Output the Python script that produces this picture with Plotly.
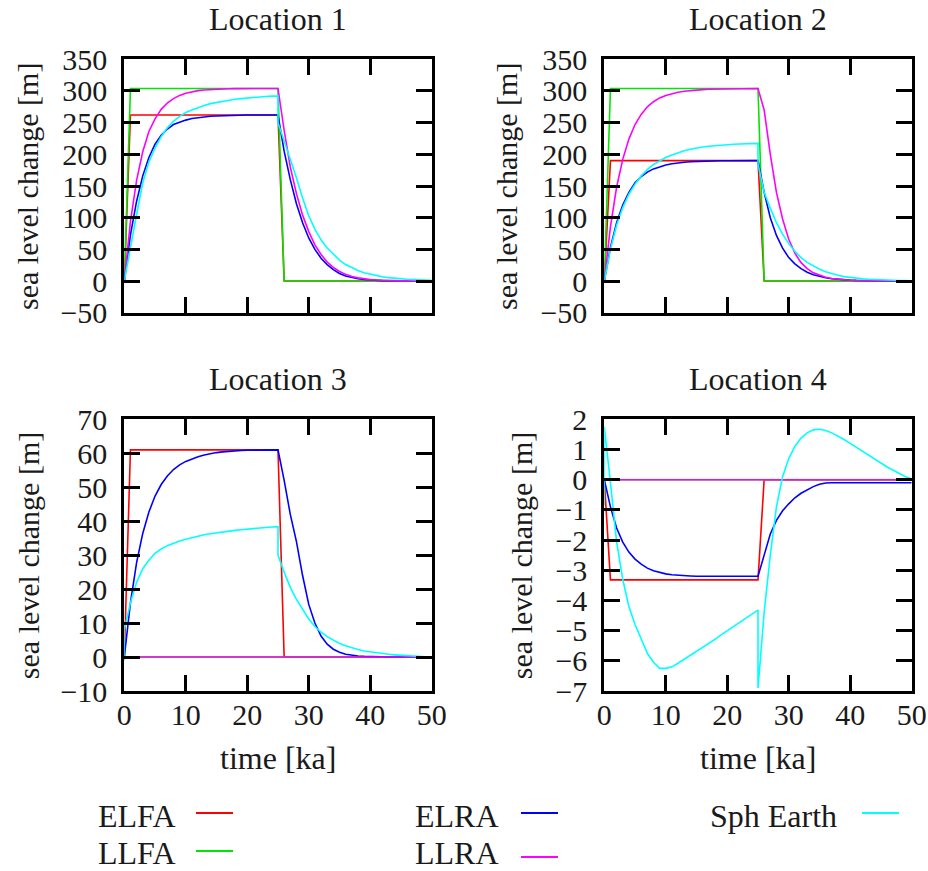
import plotly.graph_objects as go

# ---------------------------------------------------------------- data
# time axis [ka]
t_step = [0, 1, 25, 26, 50]          # fixed-ice step models sample points
t_flat = [0, 50]
t_grid = list(range(0, 51))          # 1 ka output grid
t_sph = list(range(0, 26)) + list(range(25, 51))          # repeated 25 ka (unloading)
t_sph0 = [0] + list(range(0, 26)) + list(range(25, 51))   # repeated 0 ka and 25 ka

# Location 1
elfa_1 = [0, 262, 262, 0, 0]
llfa_1 = [0, 304, 304, 0, 0]
elra_1 = [0, 73, 126, 166, 195, 216, 230, 240, 247, 251, 254, 256.5, 258, 259, 260,
          260.5, 261, 261, 261.5, 261.5, 262, 262, 262, 262, 262, 262,
          205, 160, 122, 92, 68, 50, 36, 26, 18, 12, 8, 5.5, 3.8, 2.5, 1.7, 1.1,
          0.7, 0.5, 0.3, 0.2, 0.1, 0.1, 0, 0, 0]
llra_1 = [0, 94, 159, 204, 236, 256, 271, 281, 288, 293, 296.5, 299, 300.5, 301.5,
          302.3, 302.8, 303.2, 303.5, 303.7, 303.8, 303.9, 304, 304, 304, 304, 304,
          238, 180, 138, 104, 78, 57, 42, 30, 21.5, 15, 10.5, 7, 5, 3.3, 2.2, 1.5,
          1, 0.7, 0.5, 0.3, 0.2, 0.1, 0.1, 0, 0]
sph_1 = [0, 55, 105, 155, 188, 210, 228, 242, 252, 260, 266, 270, 274, 277, 280, 282,
         284, 285.5, 287, 288, 289, 290, 290.7, 291.3, 291.8, 292,
         250, 222, 193, 163, 131, 103, 82, 65, 52, 42, 33, 26, 21, 16.5, 13, 10.5,
         8.3, 6.6, 5.3, 4.2, 3.4, 2.7, 2.2, 1.8, 1.5, 1.2]

# Location 2
elfa_2 = [0, 190, 190, 0, 0]
llfa_2 = [0, 304, 304, 0, 0]
elra_2 = [0, 53, 92, 120, 140, 155, 165, 172, 177, 180.5, 183, 185, 186.5, 187.5,
          188.2, 188.7, 189.1, 189.4, 189.6, 189.8, 189.9, 190, 190, 190, 190, 190,
          140, 100, 72, 52, 37, 27, 19.5, 14, 10, 7.2, 5.2, 3.7, 2.7, 1.9, 1.4, 1,
          0.7, 0.5, 0.4, 0.3, 0.2, 0.1, 0.1, 0.1, 0]
llra_2 = [0, 86, 148, 192, 224, 247, 263, 275, 283, 289, 293, 296, 298, 299.5, 300.7,
          301.5, 302.2, 302.7, 303, 303.3, 303.5, 303.7, 303.8, 303.9, 304, 304,
          270, 200, 140, 98, 66, 44, 29, 19.5, 13, 9, 6, 4, 2.7, 1.8, 1.2, 0.8,
          0.5, 0.4, 0.3, 0.2, 0.1, 0.1, 0, 0, 0]
sph_2 = [0, 50, 88, 116, 137, 153, 166, 176, 184, 190, 195, 199, 202.5, 205.5, 208,
         210, 211.5, 212.7, 213.7, 214.5, 215.2, 215.8, 216.3, 216.7, 217, 217.3,
         185, 140, 115, 92, 74, 59, 47, 37, 29.5, 23.5, 18.5, 14.5, 11.5, 9, 7, 5.6,
         4.4, 3.5, 2.8, 2.2, 1.7, 1.4, 1.1, 0.9, 0.7, 0.5]

# Location 3
elfa_3 = [0, 61, 61, 0, 0]
llfa_3 = [0, 0]
elra_3 = [0, 16, 27.8, 36.4, 42.7, 47.4, 50.8, 53.3, 55.2, 56.6, 57.6, 58.4, 59, 59.5,
          59.9, 60.2, 60.4, 60.6, 60.7, 60.8, 60.9, 60.9, 61, 61, 61, 61,
          52, 42, 34, 24, 15.5, 10, 6.2, 3.8, 2.3, 1.4, 0.8, 0.5, 0.3, 0.2, 0.1, 0.1,
          0, 0, 0, 0, 0, 0, 0, 0, 0]
llra_3 = [0, 0]
sph_3 = [-1, 8, 16, 22, 26, 28.5, 30.5, 31.8, 32.8, 33.6, 34.2, 34.7, 35.2, 35.6, 36,
         36.3, 36.6, 36.9, 37.1, 37.3, 37.5, 37.7, 37.9, 38, 38.1, 38.3, 38.4,
         30, 25, 20.5, 17, 14, 11.2, 9, 7.3, 6, 4.9, 4, 3.3, 2.7, 2.2, 1.8, 1.5, 1.2,
         1, 0.8, 0.65, 0.5, 0.4, 0.3, 0.2, 0.1, 0]

# Location 4
elfa_4 = [0, -3.32, -3.32, 0, 0]
llfa_4 = [0, 0]
elra_4 = [0, -0.9, -1.6, -2.07, -2.4, -2.63, -2.8, -2.93, -3.02, -3.08, -3.12, -3.15,
          -3.17, -3.18, -3.19, -3.2, -3.2, -3.2, -3.2, -3.2, -3.2, -3.2, -3.2, -3.2,
          -3.2, -3.2,
          -2.5, -1.8, -1.35, -1.03, -0.8, -0.6, -0.45, -0.33, -0.23, -0.15, -0.11,
          -0.1, -0.1, -0.1, -0.1, -0.1, -0.1, -0.1, -0.1, -0.1, -0.1, -0.1, -0.1,
          -0.1, -0.1]
llra_4 = [0, 0]
sph_4 = [-0.85, 1.75, -0.1, -2.05, -3.3, -4.2, -4.8, -5.3, -5.75, -6.05, -6.25, -6.25,
         -6.2, -6.08, -5.95, -5.83, -5.7, -5.57, -5.43, -5.29, -5.14, -5.0, -4.86,
         -4.73, -4.6, -4.46, -4.32,
         -6.9, -4.4, -2.5, -0.9, 0.1, 0.7, 1.1, 1.38, 1.55, 1.65, 1.67, 1.63, 1.55,
         1.45, 1.33, 1.2, 1.07, 0.93, 0.8, 0.67, 0.54, 0.42, 0.31, 0.2, 0.1, 0.02]

titles = ["Location 1", "Location 2", "Location 3", "Location 4"]
y_ranges = [[-50, 350], [-50, 350], [-10, 70], [-7, 2]]
y_dticks = [50, 50, 10, 1]
x_ticks = [0, 10, 20, 30, 40, 50]

model_names = ["ELFA", "LLFA", "ELRA", "LLRA", "Sph Earth"]
model_colors = ["#ff0000", "#00e600", "#0000ff", "#ff00ff", "#00ffff"]

panels = [
    [(t_step, elfa_1), (t_step, llfa_1), (t_grid, elra_1), (t_grid, llra_1), (t_sph, sph_1)],
    [(t_step, elfa_2), (t_step, llfa_2), (t_grid, elra_2), (t_grid, llra_2), (t_sph, sph_2)],
    [(t_step, elfa_3), (t_flat, llfa_3), (t_grid, elra_3), (t_flat, llra_3), (t_sph0, sph_3)],
    [(t_step, elfa_4), (t_flat, llfa_4), (t_grid, elra_4), (t_flat, llra_4), (t_sph0, sph_4)],
]

# ---------------------------------------------------------------- layout geometry (px)
W, H = 928, 871
FONT = "Liberation Serif"
TXT = "#1a1a1a"
FS_TICK = 30
FS_YTITLE = 30
FS_TEXT = 32
col_px = [(124.3, 431.7), (604.3, 911.7)]
row_px = [(59.3, 312.7), (419.3, 691.0)]


def px_x(v):
    return v / W


def px_y(v):
    return 1 - v / H


def txt_font(size=FS_TEXT):
    return dict(family=FONT, size=size, color=TXT)


fig = go.Figure()

for i in range(4):
    r, c = divmod(i, 2)
    xs = "" if i == 0 else str(i + 1)
    xref, yref = "x" + xs, "y" + xs
    for (tx, ty), name, color in zip(panels[i], model_names, model_colors):
        fig.add_trace(go.Scatter(x=tx, y=ty, mode="lines", name=name,
                                 line=dict(color=color, width=1.6),
                                 xaxis=xref, yaxis=yref))
    x0, x1 = col_px[c]
    y0, y1 = row_px[r]
    common = dict(showline=True, linecolor="black", linewidth=3, mirror="allticks",
                  ticks="inside", ticklen=16, tickwidth=3, tickcolor="black",
                  showgrid=False, zeroline=False, automargin=False,
                  tickfont=txt_font(FS_TICK))
    fig.update_layout({
        "xaxis" + xs: dict(common, domain=[px_x(x0), px_x(x1)], range=[0, 50],
                           tickvals=x_ticks, showticklabels=(r == 1),
                           anchor=yref, ticklabelstandoff=-5),
        "yaxis" + xs: dict(common, domain=[px_y(y1), px_y(y0)], range=y_ranges[i],
                           tick0=y_ranges[i][0], dtick=y_dticks[i],
                           anchor=xref, ticklabelstandoff=8),
    })
    # panel title
    fig.add_annotation(text=titles[i], x=px_x((x0 + x1) / 2), y=px_y(y0 - 40),
                       xref="paper", yref="paper", showarrow=False,
                       xanchor="center", yanchor="middle", font=txt_font())
    # y-axis title
    ytx = [28, 507, 28, 521][i]
    fig.add_annotation(text="sea level change [m]", x=px_x(ytx),
                       y=px_y((y0 + y1) / 2 + 1), textangle=-90,
                       xref="paper", yref="paper", showarrow=False,
                       xanchor="center", yanchor="middle", font=txt_font(FS_YTITLE))
    if r == 1:
        fig.add_annotation(text="time [ka]", x=px_x((x0 + x1) / 2), y=px_y(758),
                           xref="paper", yref="paper", showarrow=False,
                           xanchor="center", yanchor="middle", font=txt_font())

# key below the panels: label followed by a line sample
key_pos = [(96, 816, 196, 233, 813), (96, 853, 196, 233, 851),
           (413, 816, 521, 558, 813), (413, 853, 521, 558, 857),
           (708, 816, 862, 899, 813)]
for (tx, ty, lx0, lx1, ly), name, color in zip(key_pos, model_names, model_colors):
    fig.add_annotation(text=name, x=px_x(tx), y=px_y(ty), xref="paper", yref="paper",
                       showarrow=False, xanchor="left", yanchor="middle", font=txt_font())
    fig.add_shape(type="line", xref="paper", yref="paper",
                  x0=px_x(lx0), x1=px_x(lx1), y0=px_y(ly), y1=px_y(ly),
                  line=dict(color=color, width=2))

fig.update_layout(
    template="none",
    width=W, height=H, margin=dict(l=0, r=0, t=0, b=0, autoexpand=False),
    paper_bgcolor="white", plot_bgcolor="white", showlegend=False,
    font=txt_font(),
)
fig.write_html("out.html")
